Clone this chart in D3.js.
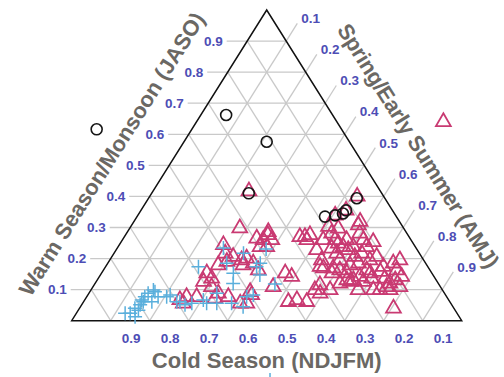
<!DOCTYPE html>
<html>
<head>
<meta charset="utf-8">
<script src="https://cdn.jsdelivr.net/npm/d3@7"></script>
<style>
  html, body { margin: 0; padding: 0; background: #fff; }
  svg { display: block; }
</style>
</head>
<body>
<svg id="chart" width="504" height="377"></svg>
<script>
// Seasonal share of annual precipitation for each site, as [NDJFM, JASO, AMJ]

// Sites dominated by warm-season / monsoon rain (open circles)
const monsoonSites = [
  [0.628, 0.616, -0.244], [0.273, 0.662, 0.065], [0.212, 0.576, 0.212],
  [0.341, 0.410, 0.249], [0.183, 0.335, 0.482], [0.155, 0.339, 0.506],
  [0.132, 0.345, 0.523], [0.119, 0.355, 0.526], [0.072, 0.394, 0.534]
];

// Sites dominated by spring / early-summer rain (open triangles)
const springSites = [
  [0.420, 0.298, 0.282], [0.393, 0.265, 0.342], [0.353, 0.286, 0.361], [0.357, 0.260, 0.383],
  [0.381, 0.238, 0.381], [0.489, 0.244, 0.267], [0.498, 0.217, 0.285], [0.507, 0.190, 0.303],
  [0.535, 0.179, 0.286], [0.483, 0.206, 0.311], [0.467, 0.195, 0.338], [0.451, 0.201, 0.348],
  [0.442, 0.185, 0.373], [0.440, 0.163, 0.397], [0.471, 0.179, 0.350], [0.577, 0.153, 0.270],
  [0.573, 0.136, 0.291], [0.599, 0.126, 0.275], [0.587, 0.109, 0.304], [0.429, 0.109, 0.462],
  [0.496, 0.093, 0.411], [0.580, 0.088, 0.332], [0.560, 0.077, 0.363], [0.540, 0.056, 0.404],
  [0.641, 0.077, 0.282], [0.667, 0.077, 0.256], [0.686, 0.056, 0.258], [0.597, 0.072, 0.331],
  [0.523, 0.056, 0.421], [0.497, 0.083, 0.420], [0.414, 0.061, 0.525], [0.389, 0.067, 0.544],
  [0.367, 0.061, 0.572], [0.319, 0.088, 0.593], [0.288, 0.099, 0.613], [0.379, 0.260, 0.361],
  [0.398, 0.238, 0.364], [0.359, 0.276, 0.365], [0.689, 0.067, 0.244],
  [0.280, 0.270, 0.450], [0.251, 0.276, 0.473], [0.267, 0.260, 0.473], [0.376, 0.153, 0.471],
  [0.365, 0.142, 0.493], [0.327, 0.099, 0.574], [0.252, 0.120, 0.628], [0.218, 0.153, 0.629],
  [0.258, 0.228, 0.514], [0.262, 0.195, 0.543], [0.270, 0.169, 0.561], [0.190, 0.303, 0.507],
  [0.193, 0.281, 0.526], [0.168, 0.297, 0.535], [0.195, 0.260, 0.545], [0.217, 0.233, 0.550],
  [0.212, 0.217, 0.571], [0.215, 0.195, 0.590], [0.185, 0.238, 0.577], [0.165, 0.260, 0.575],
  [0.177, 0.228, 0.595], [0.111, 0.308, 0.581], [0.121, 0.281, 0.598], [0.122, 0.260, 0.618],
  [0.125, 0.238, 0.637], [0.100, 0.254, 0.646], [0.148, 0.217, 0.635], [0.171, 0.206, 0.623],
  [0.172, 0.185, 0.643], [0.197, 0.179, 0.624], [0.138, 0.195, 0.667], [0.162, 0.163, 0.675],
  [0.190, 0.142, 0.668], [0.212, 0.131, 0.657], [0.189, 0.126, 0.685], [0.216, 0.099, 0.685],
  [0.163, 0.136, 0.701], [0.130, 0.158, 0.712], [0.129, 0.136, 0.735], [0.124, 0.120, 0.756],
  [0.105, 0.131, 0.764], [0.083, 0.185, 0.732], [0.061, 0.195, 0.744], [0.085, 0.163, 0.752],
  [0.138, 0.109, 0.753], [0.160, 0.099, 0.741], [0.104, 0.109, 0.787], [0.083, 0.142, 0.775],
  [0.231, 0.163, 0.606], [0.256, 0.153, 0.591], [0.223, 0.126, 0.651], [0.155, 0.040, 0.805],
  [0.177, 0.099, 0.724], [0.134, 0.099, 0.767], [0.225, 0.260, 0.515], [0.101, 0.319, 0.580],
  [0.192, 0.249, 0.559], [0.159, 0.238, 0.603], [0.115, 0.206, 0.679], [0.114, 0.174, 0.712],
  [0.158, 0.153, 0.689], [0.245, 0.169, 0.586], [0.276, 0.174, 0.550], [0.229, 0.131, 0.640],
  [0.306, 0.115, 0.579], [0.267, 0.270, 0.463], [-0.273, 0.640, 0.633], [0.068, 0.400, 0.532],
  [0.119, 0.355, 0.526], [0.337, 0.417, 0.246], [0.155, 0.339, 0.506]
];

// Sites dominated by cold-season rain (plus signs)
const coldSites = [
  [0.851, 0.024, 0.125], [0.838, 0.024, 0.138], [0.831, 0.013, 0.156], [0.812, 0.034, 0.154],
  [0.799, 0.051, 0.150], [0.786, 0.061, 0.153], [0.774, 0.077, 0.149], [0.760, 0.088, 0.152],
  [0.764, 0.061, 0.175], [0.740, 0.093, 0.167], [0.740, 0.077, 0.183], [0.706, 0.083, 0.211],
  [0.700, 0.061, 0.239], [0.818, 0.040, 0.142], [0.588, 0.174, 0.238], [0.494, 0.234, 0.272],
  [0.510, 0.185, 0.305], [0.509, 0.153, 0.338], [0.444, 0.147, 0.409], [0.439, 0.174, 0.387],
  [0.584, 0.088, 0.328], [0.692, 0.061, 0.247], [0.741, 0.099, 0.160], [0.787, 0.067, 0.146],
  [0.420, 0.118, 0.462], [0.513, 0.077, 0.410], [0.526, 0.120, 0.354], [0.626, 0.056, 0.318],
  [0.664, 0.056, 0.280], [0.451, 0.217, 0.332], [0.684, 0.051, 0.265], [0.600, 0.056, 0.344],
  [0.562, 0.056, 0.382], [0.538, 0.045, 0.417], [0.493, 0.083, 0.424], [0.718, 0.077, 0.205],
  [0.629, 0.067, 0.304], [0.424, 0.185, 0.391], [0.386, 0.231, 0.383], [0.587, -0.191, 0.604]
];

const tickValues = [0.1, 0.2, 0.3, 0.4, 0.5, 0.6, 0.7, 0.8, 0.9];
const axisTitles = {
  bottom: "Cold Season (NDJFM)",
  left: "Warm Season/Monsoon (JASO)",
  right: "Spring/Early Summer (AMJ)"
};

const svg = d3.select("#chart");
const fontFamily = "'Liberation Sans', Arial, Helvetica, sans-serif";
const tickColor = "#4d4db5";
const titleColor = "#6b6864";
const gridColor = "#c9c9c9";

// Barycentric projection: JASO sets the height, AMJ + JASO/2 the horizontal position
const sx = d3.scaleLinear().domain([0, 1]).range([71.7, 461.7]);
const sy = d3.scaleLinear().domain([0, 1]).range([320.7, 10]);
const project = ([ndjfm, jaso, amj]) => [sx(amj + jaso / 2), sy(jaso)];
const pt = (jaso, amj) => project([1 - jaso - amj, jaso, amj]);

const ext = 0.057;   // tick extension beyond the triangle along grid direction
const leftExt = 0.0526;

// Grid lines
const grid = svg.append("g")
  .attr("stroke", gridColor).attr("stroke-width", 1.3).attr("fill", "none");
const line = d3.line();

// JASO: horizontal lines, extended past the left edge as ticks
tickValues.forEach(v => {
  grid.append("path").attr("d", line([pt(v, -leftExt), pt(v, 1 - v)]));
});
// AMJ: parallel to the left edge, extended past the right edge as ticks
tickValues.forEach(v => {
  grid.append("path").attr("d", line([pt(0, v), pt(1 - v + ext, v)]));
});
// NDJFM: parallel to the right edge
tickValues.forEach(v => {
  grid.append("path").attr("d", line([pt(1 - v, 0), pt(0, 1 - v)]));
});

// Triangle outline
svg.append("path")
  .attr("d", line([pt(1, 0), pt(0, 1), pt(0, 0)]) + "Z")
  .attr("fill", "none").attr("stroke", "#111").attr("stroke-width", 1.5)
  .attr("stroke-linejoin", "miter");

// Tick labels
const fmt = d3.format(".1f");
const labels = svg.append("g")
  .attr("font-family", fontFamily).attr("font-weight", "bold")
  .attr("font-size", 13.5).attr("fill", tickColor);

tickValues.forEach(v => {
  const [x, y] = pt(v, -leftExt);
  labels.append("text").attr("x", x - 4).attr("y", y).attr("dy", "0.36em")
    .attr("text-anchor", "end").text(fmt(v));
});
tickValues.forEach(v => {
  const [x, y] = pt(1 - v + ext, v);
  labels.append("text").attr("x", x + 4).attr("y", y - 5).attr("dy", "0.36em")
    .attr("text-anchor", "start").text(fmt(v));
});
tickValues.forEach(v => {
  const [x, y] = pt(-ext, 1 - v + ext);
  labels.append("text").attr("x", x).attr("y", y).attr("dy", "0.36em")
    .attr("text-anchor", "start").text(fmt(v));
});

// Axis titles
const titles = svg.append("g")
  .attr("font-family", fontFamily).attr("font-weight", "bold")
  .attr("font-size", 22).attr("fill", titleColor).attr("text-anchor", "middle");

const edgeAngle = Math.atan2(sy(0) - sy(1), sx(0.5) - sx(0)) * 180 / Math.PI;

titles.append("text")
  .attr("transform", `translate(${sx(0.5)},360)`)
  .attr("dy", "0.36em").text(axisTitles.bottom);
titles.append("text")
  .attr("transform", `translate(111.5,153.8) rotate(${-edgeAngle})`)
  .attr("dy", "0.36em").text(axisTitles.left);
titles.append("text")
  .attr("transform", `translate(418.5,145.5) rotate(${edgeAngle})`)
  .attr("letter-spacing", -0.3)
  .attr("dy", "0.36em").text(axisTitles.right);

// Point symbols
const plusType = {
  draw(context, size) {
    const r = Math.sqrt(size) / 2;
    context.moveTo(-r, 0); context.lineTo(r, 0);
    context.moveTo(0, -r); context.lineTo(0, r);
  }
};

svg.append("g").selectAll("path").data(springSites).join("path")
  .attr("transform", d => `translate(${project(d)})`)
  .attr("d", d3.symbol(d3.symbolTriangle, 95))
  .attr("fill", "none").attr("stroke", "#c93a72").attr("stroke-width", 1.8);

svg.append("g").selectAll("path").data(coldSites).join("path")
  .attr("transform", d => `translate(${project(d)})`)
  .attr("d", d3.symbol(plusType, 196))
  .attr("fill", "none").attr("stroke", "#5aafdc").attr("stroke-width", 1.5);

svg.append("g").selectAll("path").data(monsoonSites).join("path")
  .attr("transform", d => `translate(${project(d)})`)
  .attr("d", d3.symbol(d3.symbolCircle, 95))
  .attr("fill", "none").attr("stroke", "#151515").attr("stroke-width", 1.6);
</script>
</body>
</html>
